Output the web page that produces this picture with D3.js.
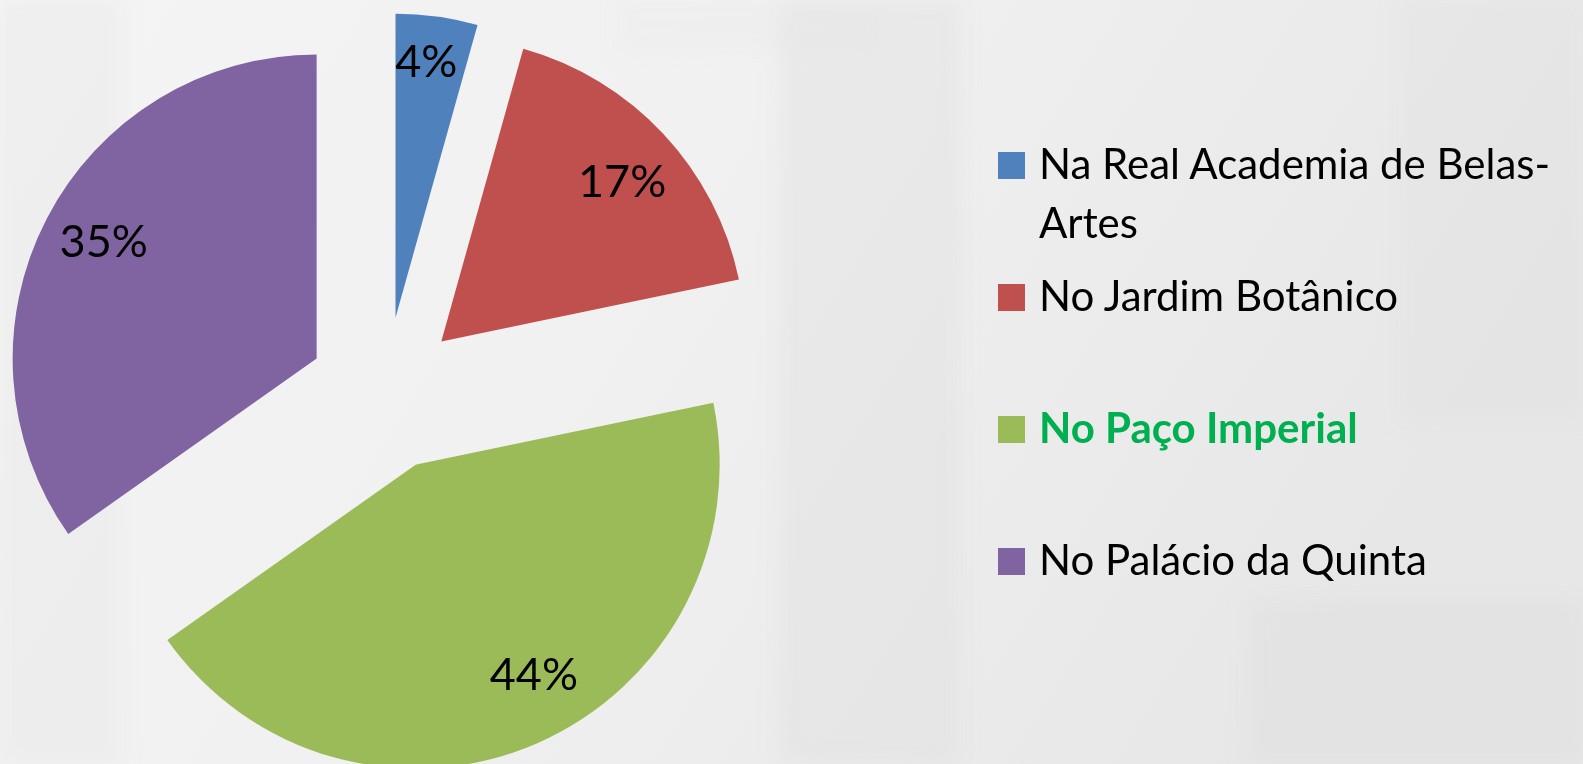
<!DOCTYPE html>
<html>
<head>
<meta charset="utf-8">
<script src="https://cdn.jsdelivr.net/npm/d3@7"></script>
<style>
  html, body { margin: 0; padding: 0; overflow: hidden; background: #ececec; }
  svg { display: block; }
</style>
</head>
<body>
<svg id="chart" width="1583" height="764"></svg>
<script>
// ---- data ----
const categories = ["Na Real Academia de Belas-Artes", "No Jardim Botânico", "No Paço Imperial", "No Palácio da Quinta"];
const counts = [1, 4, 10, 8];
const percentLabels = ["4%", "17%", "44%", "35%"];
const colors = ["#4F81BD", "#C0504D", "#9BBB59", "#8064A2"];

// ---- layout ----
const W = 1583, H = 764;
const cx = 385, cy = 394, R = 304, explode = 77;
const fontFamily = "Lato, 'Open Sans', sans-serif";

const svg = d3.select("#chart");
const defs = svg.append("defs");

// background (faded photo look)
const lg = defs.append("linearGradient").attr("id", "bg").attr("x1", 0).attr("y1", 0).attr("x2", 1).attr("y2", 0.3);
lg.append("stop").attr("offset", "0").attr("stop-color", "#f4f4f4");
lg.append("stop").attr("offset", "0.45").attr("stop-color", "#f1f1f1");
lg.append("stop").attr("offset", "1").attr("stop-color", "#e7e7e7");
svg.append("rect").attr("width", W).attr("height", H).attr("fill", "url(#bg)");
const blur = defs.append("filter").attr("id", "blur").attr("x", "-20%").attr("y", "-20%").attr("width", "140%").attr("height", "140%");
blur.append("feGaussianBlur").attr("stdDeviation", 10);
const tex = svg.append("g").attr("filter", "url(#blur)").attr("fill", "#dcdcdc");
[[0, 0, 120, 764, 0.2], [780, 0, 180, 764, 0.3], [1250, 600, 333, 164, 0.3], [1400, 0, 183, 420, 0.2], [620, 0, 260, 50, 0.15]]
  .forEach(r => tex.append("rect").attr("x", r[0]).attr("y", r[1]).attr("width", r[2]).attr("height", r[3]).attr("opacity", r[4]));

// ---- pie ----
const pie = d3.pie().sort(null).value(d => d);
const arcs = pie(counts);
const arc = d3.arc().innerRadius(0).outerRadius(R);

const g = svg.append("g").attr("transform", `translate(${cx},${cy})`);
const mid = d => (d.startAngle + d.endAngle) / 2;
const off = d => [Math.sin(mid(d)) * explode, -Math.cos(mid(d)) * explode];

const slices = g.selectAll("g.slice").data(arcs).join("g")
  .attr("class", "slice")
  .attr("transform", d => { const o = off(d); return `translate(${o[0]},${o[1]})`; });

slices.append("path")
  .attr("d", arc)
  .attr("fill", (d, i) => colors[i]);

// label placement (best-fit style: radial fraction and angle nudge in degrees)
const labelFit = [{ f: 0.85, a: -1 }, { f: 0.795, a: 1.5 }, { f: 0.79, a: -6 }, { f: 0.80, a: 1.5 }];
slices.append("text")
  .attr("x", (d, i) => Math.sin(mid(d) + labelFit[i].a * Math.PI / 180) * R * labelFit[i].f)
  .attr("y", (d, i) => -Math.cos(mid(d) + labelFit[i].a * Math.PI / 180) * R * labelFit[i].f)
  .attr("text-anchor", "middle")
  .attr("dy", "0.36em")
  .attr("font-family", fontFamily)
  .attr("font-size", 45)
  .attr("fill", "#000")
  .text((d, i) => percentLabels[i]);

// ---- legend ----
const legX = 998, sw = 27, textX = 1039, firstBase = 179, step = 132, lineH = 59, maxW = 540;
const leg = svg.append("g");
categories.forEach((c, i) => {
  const base = firstBase + i * step;
  leg.append("rect").attr("x", legX).attr("y", base - sw).attr("width", sw).attr("height", sw).attr("fill", colors[i]);
  const isHi = i === 2;
  const t = leg.append("text")
    .attr("x", textX).attr("y", base)
    .attr("font-family", fontFamily)
    .attr("font-size", 42)
    .attr("font-weight", isHi ? 700 : 400)
    .attr("fill", isHi ? "#00B050" : "#000");
  // wrap after spaces / hyphens
  const tokens = c.split(/(?<=[\s-])/);
  let line = [], lineNo = 0;
  let ts = t.append("tspan").attr("x", textX).attr("y", base);
  tokens.forEach(tok => {
    line.push(tok);
    ts.text(line.join(""));
    if (ts.node().getComputedTextLength() > maxW && line.length > 1) {
      line.pop();
      ts.text(line.join(""));
      line = [tok];
      lineNo++;
      ts = t.append("tspan").attr("x", textX).attr("y", base + lineNo * lineH).text(tok);
    }
  });
});
</script>
</body>
</html>
